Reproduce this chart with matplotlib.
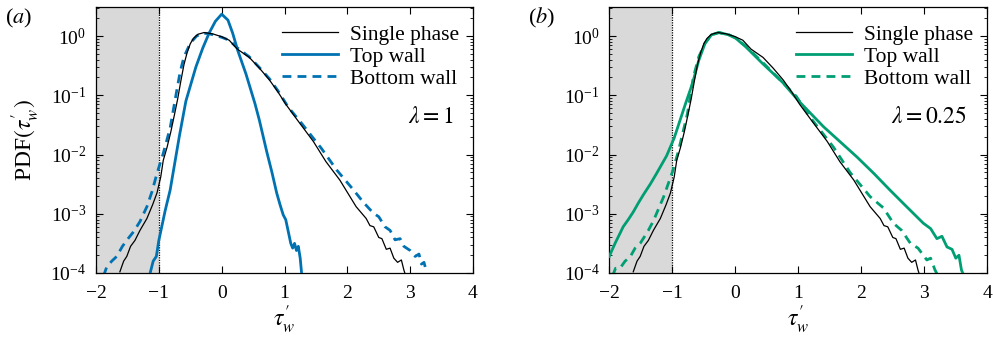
import numpy as np
import matplotlib
matplotlib.use("Agg")
import matplotlib.pyplot as plt
from matplotlib.ticker import LogLocator, NullFormatter

plt.rcParams['font.family'] = ['Liberation Serif', 'DejaVu Serif']
plt.rcParams['mathtext.fontset'] = 'stix'
plt.rcParams['axes.unicode_minus'] = True

# ---------------- data (x = tau'_w, values = log10 PDF) ----------------
single_x = [-1.62, -1.56, -1.51, -1.45, -1.38, -1.30, -1.19, -1.10, -1.03, -0.97, -0.93, -0.87,
            -0.81, -0.75, -0.70, -0.65, -0.60, -0.55, -0.50, -0.45, -0.38, -0.28, -0.15, 0.0,
            0.12, 0.25, 0.44, 0.60, 0.76, 0.90, 1.02, 1.20, 1.46, 1.66, 1.88, 2.14, 2.30,
            2.36, 2.42, 2.50, 2.55, 2.62, 2.68, 2.74, 2.80, 2.86, 2.90, 2.93]
single_log = [-3.98, -3.80, -3.72, -3.55, -3.45, -3.28, -3.08, -2.85, -2.65, -2.38, -2.10, -1.88,
              -1.62, -1.32, -1.06, -0.76, -0.48, -0.28, -0.13, -0.04, 0.03, 0.06, 0.04, -0.01,
              -0.07, -0.22, -0.36, -0.54, -0.74, -0.95, -1.15, -1.41, -1.78, -2.12, -2.43, -2.88, -3.08,
              -3.20, -3.22, -3.40, -3.42, -3.60, -3.58, -3.75, -3.82, -3.78, -3.95, -4.05]

top_a_x = [-1.15, -1.09, -1.04, -1.00, -0.90, -0.82, -0.675, -0.57, -0.41, -0.30, -0.20, -0.10,
           0.0, 0.10, 0.175, 0.255, 0.387, 0.53, 0.60, 0.717, 0.80, 0.876, 0.93, 0.98, 1.02,
           1.06, 1.10, 1.13, 1.16, 1.19, 1.22, 1.25, 1.27, 1.30]
top_a_log = [-4.05, -3.80, -3.72, -3.45, -2.95, -2.60, -1.70, -1.10, -0.52, -0.20, 0.05, 0.25,
             0.37, 0.27, 0.05, -0.24, -0.64, -1.14, -1.42, -1.95, -2.30, -2.65, -2.85, -3.02, -3.10,
             -3.30, -3.50, -3.58, -3.50, -3.62, -3.55, -3.75, -3.98, -4.30]

bot_a_x = [-1.88, -1.83, -1.75, -1.67, -1.58, -1.49, -1.40, -1.30, -1.19, -1.11, -1.03, -0.93,
           -0.82, -0.72, -0.66, -0.60, -0.50, -0.40, -0.30, -0.20, -0.10, 0.0, 0.12, 0.25,
           0.44, 0.60, 0.76, 0.90, 1.06, 1.27, 1.59, 1.83, 2.10, 2.25, 2.415, 2.50, 2.60,
           2.68, 2.76, 2.84, 2.90, 3.00, 3.08, 3.14, 3.18, 3.22, 3.26]
bot_a_log = [-4.05, -3.90, -3.80, -3.72, -3.55, -3.42, -3.30, -3.13, -2.88, -2.63, -2.32, -1.98,
             -1.55, -0.95, -0.60, -0.35, -0.12, 0.00, 0.05, 0.04, 0.01, -0.02, -0.07, -0.20,
             -0.35, -0.53, -0.72, -0.93, -1.20, -1.47, -1.90, -2.26, -2.60, -2.80, -2.99, -3.05, -3.22,
             -3.28, -3.44, -3.42, -3.55, -3.62, -3.72, -3.68, -3.85, -3.82, -3.98]

top_b_x = [-2.0, -1.96, -1.90, -1.83, -1.78, -1.70, -1.62, -1.54, -1.46, -1.35, -1.25, -1.09,
           -0.97, -0.79, -0.68, -0.58, -0.48, -0.38, -0.26, -0.10, 0.0, 0.165, 0.43, 0.75,
           1.01, 1.40, 1.93, 2.20, 2.455, 2.70, 2.985, 3.10, 3.20, 3.28, 3.36, 3.44, 3.50,
           3.55, 3.59, 3.65]
top_b_log = [-3.72, -3.62, -3.48, -3.33, -3.22, -3.10, -2.97, -2.82, -2.68, -2.50, -2.32, -2.02,
             -1.72, -1.14, -0.80, -0.41, -0.12, 0.02, 0.06, 0.02, -0.03, -0.18, -0.46, -0.78,
             -1.10, -1.53, -2.04, -2.32, -2.60, -2.86, -3.16, -3.25, -3.42, -3.38, -3.56, -3.60, -3.75,
             -3.70, -3.95, -4.10]

bot_b_x = [-1.95, -1.90, -1.83, -1.75, -1.67, -1.59, -1.51, -1.45, -1.38, -1.30, -1.22, -1.14, -1.06,
           -1.00, -0.905, -0.76, -0.665, -0.58, -0.48, -0.38, -0.26, -0.10, 0.0, 0.165, 0.43, 0.75,
           0.97, 1.18, 1.555, 1.82, 2.14, 2.35, 2.51, 2.64, 2.78, 2.90, 3.04, 3.10, 3.17, 3.22]
bot_b_log = [-4.05, -3.92, -3.92, -3.80, -3.73, -3.58, -3.50, -3.40, -3.28, -3.12, -2.92, -2.72, -2.48,
             -2.30, -1.95, -1.31, -0.69, -0.35, -0.12, 0.02, 0.06, 0.02, -0.03, -0.17, -0.44, -0.78,
             -1.02, -1.36, -1.87, -2.30, -2.71, -2.90, -3.16, -3.28, -3.50, -3.58, -3.78, -3.75, -3.95, -4.05]

xticks = [-2, -1, 0, 1, 2, 3, 4]
legend_labels = ['Single phase', 'Top wall', 'Bottom wall']
lambda_labels = [r'$\lambda = 1$', r'$\lambda = 0.25$']
panel_labels = [r'($a$)', r'($b$)']

blue = '#0072B2'
green = '#009E73'

fig = plt.figure(figsize=(9.93, 3.39), dpi=100)
W, H = 993, 339
ax_a = fig.add_axes([96 / W, 1 - 273 / H, 377 / W, 266 / H])
ax_b = fig.add_axes([609.3 / W, 1 - 273 / H, 378 / W, 266 / H])

panels = [
    (ax_a, blue, top_a_x, top_a_log, bot_a_x, bot_a_log),
    (ax_b, green, top_b_x, top_b_log, bot_b_x, bot_b_log),
]

for i, (ax, col, tx, tl, bx, bl) in enumerate(panels):
    ax.axvspan(-2, -1, color='#d9d9d9', lw=0, zorder=0)
    ax.axvline(-1, color='black', lw=0.9, ls=(0, (1, 1)), zorder=1)
    l1, = ax.semilogy(single_x, 10 ** np.array(single_log), color='black', lw=0.9, zorder=4)
    l2, = ax.semilogy(tx, 10 ** np.array(tl), color=col, lw=2.0, zorder=3)
    l3, = ax.semilogy(bx, 10 ** np.array(bl), color=col, lw=2.0, dashes=(3.2, 2.2), zorder=2)
    ax.set_xlim(-2, 4)
    ax.set_ylim(1e-4, 3.1)
    ax.set_xticks(xticks)
    ax.yaxis.set_major_locator(LogLocator(base=10, numticks=10))
    ax.yaxis.set_minor_locator(LogLocator(base=10, subs=np.arange(2, 10), numticks=10))
    ax.yaxis.set_minor_formatter(NullFormatter())
    ax.tick_params(which='both', direction='in', top=True, right=True, labelsize=14)
    ax.tick_params(axis='x', which='major', pad=9)
    ax.tick_params(axis='y', which='major', pad=7)
    ax.tick_params(which='major', length=5, width=0.8)
    ax.tick_params(which='minor', length=2.5, width=0.6)
    for s in ax.spines.values():
        s.set_linewidth(0.9)
    ax.set_xlabel(r"$\tau_w^{\prime}$", fontsize=17, labelpad=1)
    leg = ax.legend([l1, l2, l3], legend_labels, loc='upper right', frameon=False,
                    fontsize=15.5, handlelength=2.6, handletextpad=0.55, labelspacing=0.08,
                    borderaxespad=0.0, bbox_to_anchor=(0.986, 0.965))
    ax.text(0.947, 0.585, lambda_labels[i], transform=ax.transAxes, ha='right',
            va='center', fontsize=17)

ax_a.set_ylabel(r"PDF$(\tau_w^{\prime})$", fontsize=17, labelpad=6)

fig.text(5 / W, 1 - 18 / H, panel_labels[0], fontsize=16, va='center', ha='left')
fig.text(528 / W, 1 - 18 / H, panel_labels[1], fontsize=16, va='center', ha='left')

fig.savefig('out.png', dpi=100)
